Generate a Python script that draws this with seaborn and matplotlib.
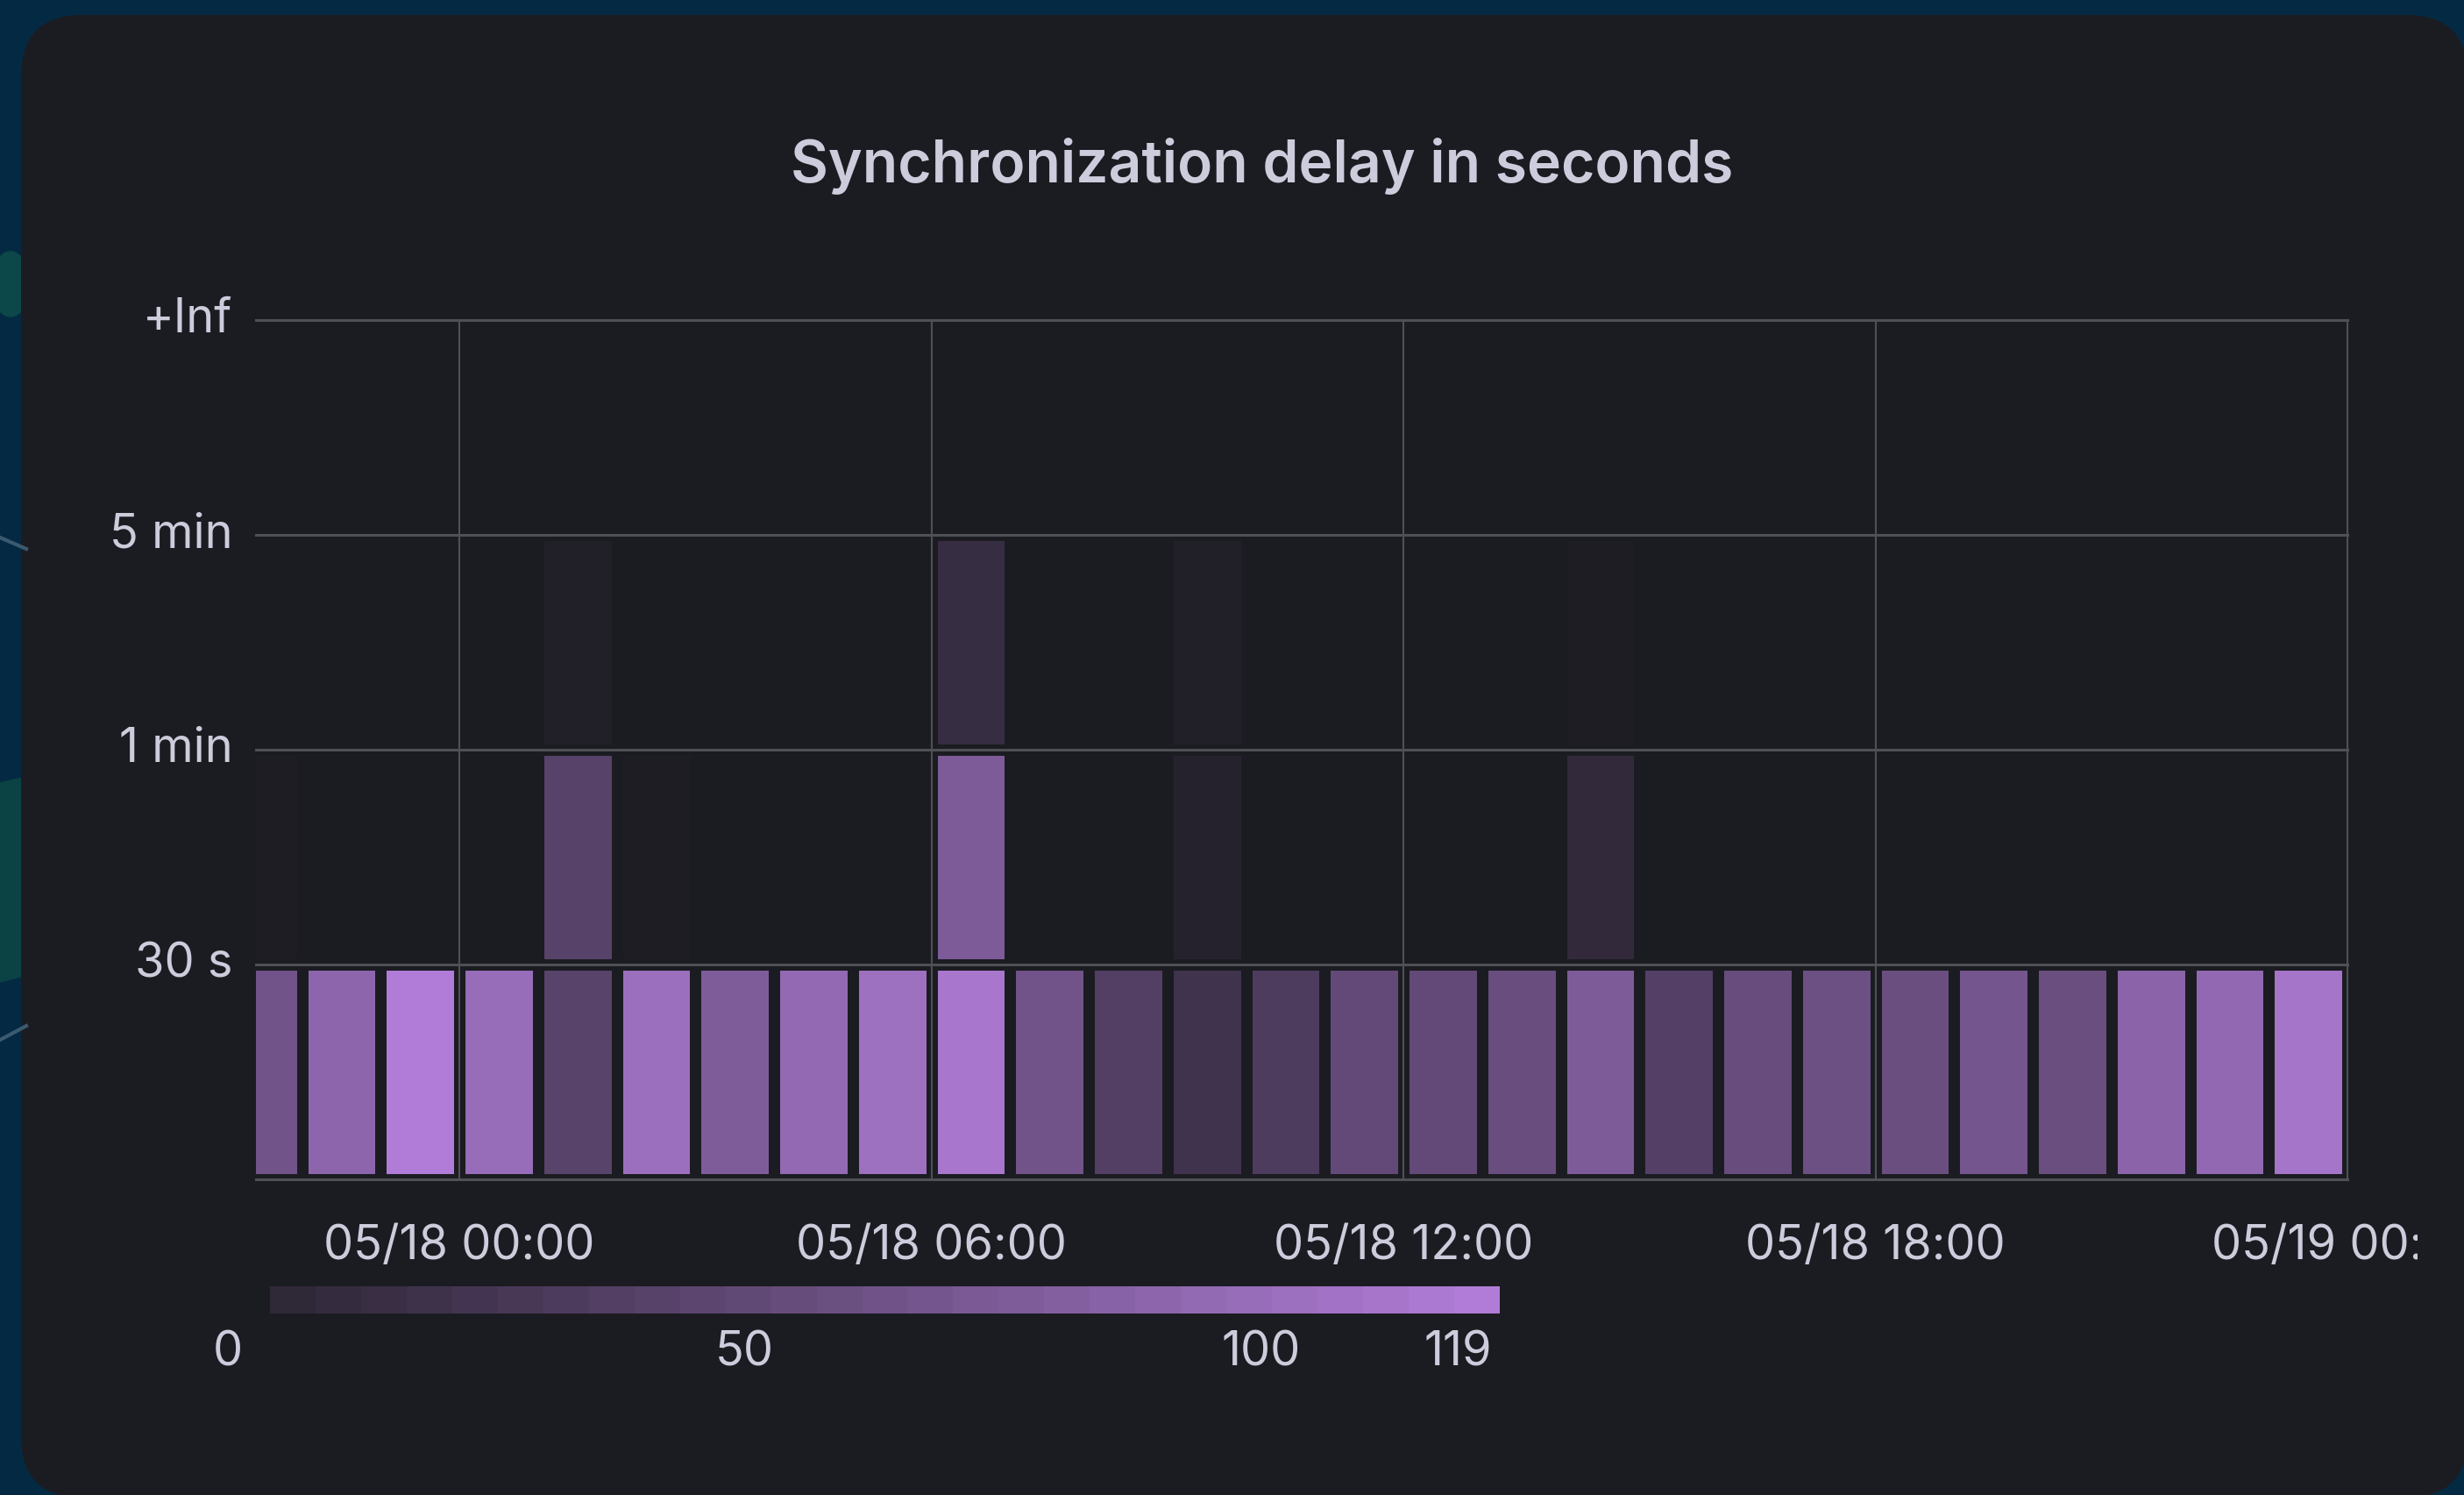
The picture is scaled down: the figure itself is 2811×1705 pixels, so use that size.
import numpy as np
import pandas as pd
import seaborn as sns
import matplotlib.pyplot as plt
import matplotlib.transforms as mtrans
from matplotlib.colors import LinearSegmentedColormap, Normalize
from matplotlib.cm import ScalarMappable
from matplotlib.patches import FancyBboxPatch, Ellipse, Polygon

plt.rcParams["font.family"] = ["Inter", "DejaVu Sans"]

# hourly buckets, first one is only partly in view
hours = pd.date_range("2024-05-17 21:00", periods=27, freq="h")
buckets = ["5min-Inf", "1-5min", "30s-1min", "0-30s"]

cnt_0_30s = [63, 88, 119, 97, 41, 101, 75, 93, 102, 112, 63, 36, 20, 32,
             50, 50, 55, 74, 38, 54, 59, 56, 66, 56, 85, 92, 109]
nan = np.nan
cnt_30s_1m = [1, nan, nan, nan, 40, 1, nan, nan, nan, 74, nan, nan, 3, nan,
              nan, nan, nan, 7, nan, nan, nan, nan, nan, nan, nan, nan, nan]
cnt_1m_5m = [nan, nan, nan, nan, 2, nan, nan, nan, nan, 12, nan, nan, 2, nan,
             nan, nan, nan, 1, nan, nan, nan, nan, nan, nan, nan, nan, nan]
cnt_5m_inf = [nan] * 27

y_labels = ["+Inf", "5 min", "1 min", "30 s"]
x_ticks = ["2024-05-18 00:00", "2024-05-18 06:00", "2024-05-18 12:00",
           "2024-05-18 18:00", "2024-05-19 00:00"]
x_labels = ["05/18 00:00", "05/18 06:00", "05/18 12:00", "05/18 18:00", "05/19 00:00"]
legend_ticks = [0, 50, 100, 119]
vmax = 119

df = pd.DataFrame([cnt_5m_inf, cnt_1m_5m, cnt_30s_1m, cnt_0_30s],
                  index=buckets, columns=hours)

bg = "#1b1c21"
txt = "#ccccdc"
grid = "#4f5056"
cmap = LinearSegmentedColormap.from_list(
    "purples", [(0, bg), (0.008, "#1d1d23"), (0.04, "#2f2838"), (1, "#b07cd7")])

W, H = 2811, 1705
fig = plt.figure(figsize=(W / 100, H / 100), dpi=100, facecolor="#042a43")

# backdrop + panel, drawn in pixel coords
back = fig.add_axes([0, 0, 1, 1], zorder=-10)
back.set_xlim(0, W)
back.set_ylim(H, 0)
back.axis("off")
back.add_patch(Ellipse((12, 324), 44, 74, color="#0c4849"))
back.add_patch(Polygon([(0, 893), (30, 886), (30, 1112), (0, 1120)], color="#0b4345"))
back.plot([0, 30], [613, 626], color="#3b5a6f", lw=3)
back.plot([0, 30], [1186, 1170], color="#3b5a6f", lw=3)
back.add_patch(FancyBboxPatch((24, 17), W + 4 - 24, H + 3 - 17,
                              boxstyle="round,pad=0,rounding_size=70",
                              facecolor=bg, edgecolor="none"))

fig.text(1440 / W, 1 - 190 / H, "Synchronization delay in seconds",
         ha="center", va="center", color=txt, fontsize=47.5, fontweight="semibold")

ax = fig.add_axes([292 / W, 1 - 1345 / H, (2678 - 292) / W, (1345 - 365) / H])
ax.set_facecolor(bg)
sns.heatmap(df, ax=ax, cmap=cmap, vmin=0, vmax=vmax, cbar=False,
            linewidths=8, linecolor=bg)

t0 = hours[0]
xpos = [(pd.Timestamp(t) - t0) / pd.Timedelta("1h") for t in x_ticks]
ax.set_xlim(0.415, len(hours))
ax.set_ylim(len(buckets), 0)
for s in ax.spines.values():
    s.set_visible(False)

for x in xpos:
    ax.axvline(x, color=grid, lw=1.5, zorder=3, clip_on=False)
for y in range(len(buckets) + 1):
    ax.axhline(y, color=grid, lw=2.2, zorder=3, clip_on=False)

ax.set_xticks(xpos)
ax.set_xticklabels(x_labels, rotation=0)
ax.set_yticks(range(len(y_labels)))
ax.set_yticklabels(y_labels, rotation=0)
ax.set_xlabel("")
ax.set_ylabel("")
ax.tick_params(axis="x", length=0, pad=37, labelsize=39, labelcolor=txt)
ax.tick_params(axis="y", length=0, pad=19, labelsize=39, labelcolor=txt)

clip = mtrans.TransformedBbox(mtrans.Bbox([[0, 0], [2758 / W, 1]]), fig.transFigure)
last = ax.get_xticklabels()[-1]
last.set_clip_on(True)
last.set_clip_box(clip)

# legend gradient
cax = fig.add_axes([308 / W, 1 - 1498 / H, (1711 - 308) / W, 31 / H])
sm = ScalarMappable(norm=Normalize(0, vmax), cmap=cmap)
steps = 27
cb = fig.colorbar(sm, cax=cax, orientation="horizontal",
                  boundaries=np.linspace(0, vmax, steps + 1),
                  values=np.linspace(5, vmax, steps))
cb.outline.set_visible(False)
cax.set_xticks([])
cax.set_yticks([])
lt = mtrans.offset_copy(
    mtrans.blended_transform_factory(cax.transData, fig.transFigure),
    fig=fig, x=-48, y=0, units="dots")
for v in legend_ticks:
    cax.text(v, 1 - 1543 / H, str(v), transform=lt, ha="center", va="center",
             color=txt, fontsize=39, clip_on=False)

fig.savefig("out.png", dpi=100, facecolor=fig.get_facecolor())
